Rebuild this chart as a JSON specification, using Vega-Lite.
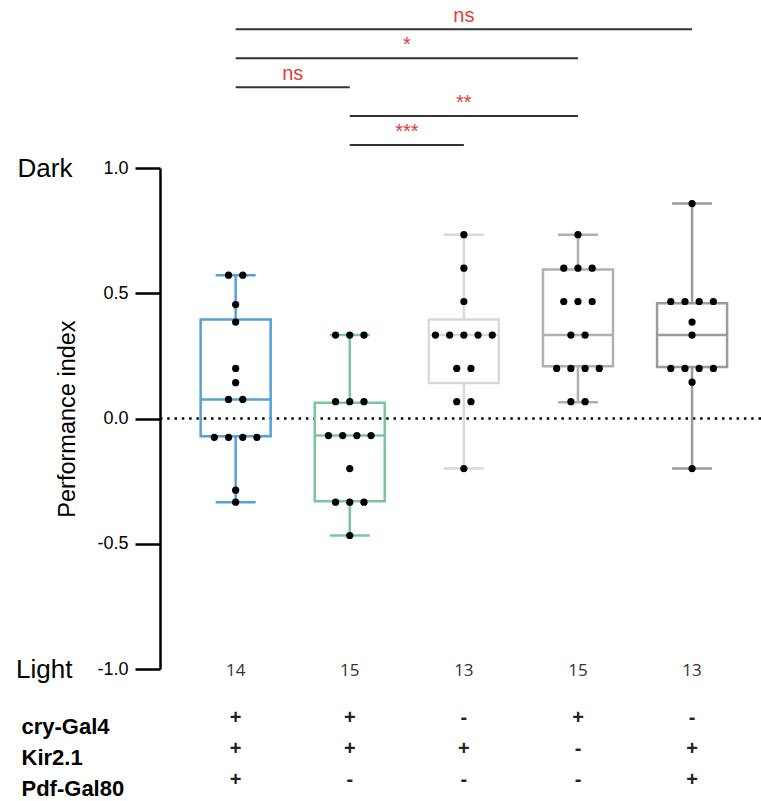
{
  "$schema": "https://vega.github.io/schema/vega-lite/v6.json",
  "autosize": {"type": "none"},
  "width": 601,
  "height": 501,
  "padding": {"left": 160, "top": 168, "right": 0, "bottom": 132},
  "background": "white",
  "config": {"view": {"stroke": null}, "axis": {"grid": false}, "scale": {"continuousPadding": 0}},
  "datasets": {
    "points": [
      {"g": 1, "v": 0.572}, {"g": 1, "v": 0.572}, {"g": 1, "v": 0.455}, {"g": 1, "v": 0.385},
      {"g": 1, "v": 0.2}, {"g": 1, "v": 0.143}, {"g": 1, "v": 0.076}, {"g": 1, "v": 0.076},
      {"g": 1, "v": -0.075}, {"g": 1, "v": -0.075}, {"g": 1, "v": -0.075}, {"g": 1, "v": -0.075},
      {"g": 1, "v": -0.286}, {"g": 1, "v": -0.334},
      {"g": 2, "v": 0.333}, {"g": 2, "v": 0.333}, {"g": 2, "v": 0.333},
      {"g": 2, "v": 0.067}, {"g": 2, "v": 0.067}, {"g": 2, "v": 0.067},
      {"g": 2, "v": -0.068}, {"g": 2, "v": -0.068}, {"g": 2, "v": -0.068}, {"g": 2, "v": -0.068},
      {"g": 2, "v": -0.2},
      {"g": 2, "v": -0.334}, {"g": 2, "v": -0.334}, {"g": 2, "v": -0.334},
      {"g": 2, "v": -0.467},
      {"g": 3, "v": 0.734}, {"g": 3, "v": 0.6}, {"g": 3, "v": 0.467},
      {"g": 3, "v": 0.333}, {"g": 3, "v": 0.333}, {"g": 3, "v": 0.333}, {"g": 3, "v": 0.333}, {"g": 3, "v": 0.333},
      {"g": 3, "v": 0.2}, {"g": 3, "v": 0.2},
      {"g": 3, "v": 0.067}, {"g": 3, "v": 0.067},
      {"g": 3, "v": -0.2},
      {"g": 4, "v": 0.734},
      {"g": 4, "v": 0.6}, {"g": 4, "v": 0.6}, {"g": 4, "v": 0.6},
      {"g": 4, "v": 0.467}, {"g": 4, "v": 0.467}, {"g": 4, "v": 0.467},
      {"g": 4, "v": 0.333}, {"g": 4, "v": 0.333},
      {"g": 4, "v": 0.2}, {"g": 4, "v": 0.2}, {"g": 4, "v": 0.2}, {"g": 4, "v": 0.2},
      {"g": 4, "v": 0.067}, {"g": 4, "v": 0.067},
      {"g": 5, "v": 0.858},
      {"g": 5, "v": 0.467}, {"g": 5, "v": 0.467}, {"g": 5, "v": 0.467}, {"g": 5, "v": 0.467},
      {"g": 5, "v": 0.385}, {"g": 5, "v": 0.333},
      {"g": 5, "v": 0.2}, {"g": 5, "v": 0.2}, {"g": 5, "v": 0.2}, {"g": 5, "v": 0.2},
      {"g": 5, "v": 0.145}, {"g": 5, "v": -0.2}
    ],
    "summary": [
      {"g": 1, "n": 14, "lo": -0.334, "q1": -0.071, "med": 0.076, "q3": 0.395, "hi": 0.572},
      {"g": 2, "n": 15, "lo": -0.467, "q1": -0.33, "med": -0.068, "q3": 0.063, "hi": 0.333},
      {"g": 3, "n": 13, "lo": -0.2, "q1": 0.142, "med": 0.333, "q3": 0.395, "hi": 0.734},
      {"g": 4, "n": 15, "lo": 0.065, "q1": 0.209, "med": 0.333, "q3": 0.595, "hi": 0.734},
      {"g": 5, "n": 13, "lo": -0.2, "q1": 0.206, "med": 0.333, "q3": 0.46, "hi": 0.858}
    ],
    "sig": [
      {"from": 1, "to": 5, "level": 5, "label": "ns"},
      {"from": 1, "to": 4, "level": 4, "label": "*"},
      {"from": 1, "to": 2, "level": 3, "label": "ns"},
      {"from": 2, "to": 4, "level": 2, "label": "**"},
      {"from": 2, "to": 3, "level": 1, "label": "***"}
    ],
    "table": [
      {"gene": "cry-Gal4", "g": 1, "sign": "+"}, {"gene": "cry-Gal4", "g": 2, "sign": "+"},
      {"gene": "cry-Gal4", "g": 3, "sign": "-"}, {"gene": "cry-Gal4", "g": 4, "sign": "+"},
      {"gene": "cry-Gal4", "g": 5, "sign": "-"},
      {"gene": "Kir2.1", "g": 1, "sign": "+"}, {"gene": "Kir2.1", "g": 2, "sign": "+"},
      {"gene": "Kir2.1", "g": 3, "sign": "+"}, {"gene": "Kir2.1", "g": 4, "sign": "-"},
      {"gene": "Kir2.1", "g": 5, "sign": "+"},
      {"gene": "Pdf-Gal80", "g": 1, "sign": "+"}, {"gene": "Pdf-Gal80", "g": 2, "sign": "-"},
      {"gene": "Pdf-Gal80", "g": 3, "sign": "-"}, {"gene": "Pdf-Gal80", "g": 4, "sign": "-"},
      {"gene": "Pdf-Gal80", "g": 5, "sign": "+"}
    ]
  },
  "layer": [
    {
      "layer": [
        {
          "data": {"values": [{}]},
          "mark": {"type": "rule", "color": "black", "strokeWidth": 2.5, "strokeDash": [2.5, 4.8]},
          "encoding": {
            "y": {"datum": 0, "type": "quantitative", "scale": {"domain": [-1, 1], "nice": false, "zero": false}, "axis": null}
          }
        },
        {
          "data": {"name": "summary"},
          "mark": {"type": "bar", "filled": false, "width": 70, "strokeWidth": 2.5},
          "encoding": {
            "x": {"field": "g", "type": "quantitative", "scale": {"domain": [0.337, 5.604], "nice": false, "zero": false, "padding": 0}, "axis": null},
            "y": {"field": "q1", "type": "quantitative", "scale": {"domain": [-1, 1], "nice": false, "zero": false},
              "axis": {"orient": "left", "values": [-1, 1], "labelExpr": "datum.value > 0 ? 'Dark' : 'Light'", "ticks": false, "tickSize": 0, "domain": false, "grid": false, "title": null, "labelFontSize": 26, "labelFont": "Liberation Sans", "labelColor": "black", "labelPadding": 88, "labelFlush": false, "labelOverlap": false}},
            "y2": {"field": "q3"},
            "color": {"field": "g", "type": "nominal", "scale": {"domain": [1, 2, 3, 4, 5], "range": ["#56a0d3", "#7cc5a0", "#d9d9d9", "#b0b0b0", "#9b9b9b"]}, "legend": null}
          }
        },
        {
          "data": {"name": "summary"},
          "mark": {"type": "rule", "strokeWidth": 2.5},
          "encoding": {
            "x": {"field": "g", "type": "quantitative", "scale": {"domain": [0.337, 5.604], "nice": false, "zero": false, "padding": 0}, "axis": null},
            "y": {"field": "q3", "type": "quantitative", "scale": {"domain": [-1, 1], "nice": false, "zero": false}, "axis": null},
            "y2": {"field": "hi"},
            "color": {"field": "g", "type": "nominal", "scale": {"domain": [1, 2, 3, 4, 5], "range": ["#56a0d3", "#7cc5a0", "#d9d9d9", "#b0b0b0", "#9b9b9b"]}, "legend": null}
          }
        },
        {
          "data": {"name": "summary"},
          "mark": {"type": "rule", "strokeWidth": 2.5},
          "encoding": {
            "x": {"field": "g", "type": "quantitative", "scale": {"domain": [0.337, 5.604], "nice": false, "zero": false, "padding": 0}, "axis": null},
            "y": {"field": "lo", "type": "quantitative", "scale": {"domain": [-1, 1], "nice": false, "zero": false}, "axis": null},
            "y2": {"field": "q1"},
            "color": {"field": "g", "type": "nominal", "scale": {"domain": [1, 2, 3, 4, 5], "range": ["#56a0d3", "#7cc5a0", "#d9d9d9", "#b0b0b0", "#9b9b9b"]}, "legend": null}
          }
        },
        {
          "data": {"name": "summary"},
          "mark": {"type": "tick", "orient": "horizontal", "size": 40, "thickness": 2.5, "opacity": 1},
          "encoding": {
            "x": {"field": "g", "type": "quantitative", "scale": {"domain": [0.337, 5.604], "nice": false, "zero": false, "padding": 0}, "axis": null},
            "y": {"field": "hi", "type": "quantitative", "scale": {"domain": [-1, 1], "nice": false, "zero": false}, "axis": null},
            "color": {"field": "g", "type": "nominal", "scale": {"domain": [1, 2, 3, 4, 5], "range": ["#56a0d3", "#7cc5a0", "#d9d9d9", "#b0b0b0", "#9b9b9b"]}, "legend": null}
          }
        },
        {
          "data": {"name": "summary"},
          "mark": {"type": "tick", "orient": "horizontal", "size": 40, "thickness": 2.5, "opacity": 1},
          "encoding": {
            "x": {"field": "g", "type": "quantitative", "scale": {"domain": [0.337, 5.604], "nice": false, "zero": false, "padding": 0}, "axis": null},
            "y": {"field": "lo", "type": "quantitative", "scale": {"domain": [-1, 1], "nice": false, "zero": false}, "axis": null},
            "color": {"field": "g", "type": "nominal", "scale": {"domain": [1, 2, 3, 4, 5], "range": ["#56a0d3", "#7cc5a0", "#d9d9d9", "#b0b0b0", "#9b9b9b"]}, "legend": null}
          }
        },
        {
          "data": {"name": "summary"},
          "mark": {"type": "tick", "orient": "horizontal", "size": 72, "thickness": 2.5, "opacity": 1},
          "encoding": {
            "x": {"field": "g", "type": "quantitative", "scale": {"domain": [0.337, 5.604], "nice": false, "zero": false, "padding": 0}, "axis": null},
            "y": {"field": "med", "type": "quantitative", "scale": {"domain": [-1, 1], "nice": false, "zero": false}, "axis": null},
            "color": {"field": "g", "type": "nominal", "scale": {"domain": [1, 2, 3, 4, 5], "range": ["#56a0d3", "#7cc5a0", "#d9d9d9", "#b0b0b0", "#9b9b9b"]}, "legend": null}
          }
        },
        {
          "data": {"name": "points"},
          "transform": [
            {"window": [{"op": "row_number", "as": "rn"}, {"op": "count", "as": "cnt"}], "groupby": ["g", "v"], "frame": [null, null]},
            {"calculate": "datum.g + 0.1245 * (datum.rn - (datum.cnt + 1) / 2)", "as": "xs"}
          ],
          "mark": {"type": "circle", "color": "black", "size": 52, "opacity": 1},
          "encoding": {
            "x": {"field": "xs", "type": "quantitative", "scale": {"domain": [0.337, 5.604], "nice": false, "zero": false, "padding": 0}, "axis": null},
            "y": {"field": "v", "type": "quantitative", "scale": {"domain": [-1, 1], "nice": false, "zero": false},
              "axis": {"orient": "left", "values": [-1, -0.5, 0, 0.5, 1], "labelExpr": "replace(format(datum.value, '.1f'), '\u2212', '-')", "title": "Performance index", "titleFontSize": 23.5, "titleFontWeight": "normal", "titleFont": "Liberation Sans", "titleColor": "black", "titlePadding": 17, "labelFont": "Liberation Sans", "labelFontSize": 18, "labelColor": "black", "labelPadding": 7, "tickSize": 25, "tickWidth": 2.5, "tickColor": "black", "domainColor": "black", "domainWidth": 2.5, "grid": false, "labelFlush": false, "labelOverlap": false}}
          }
        },
        {
          "data": {"name": "summary"},
          "mark": {"type": "text", "font": "Open Sans", "fontSize": 17, "color": "#333333", "baseline": "middle", "dy": 2},
          "encoding": {
            "x": {"field": "g", "type": "quantitative", "scale": {"domain": [0.337, 5.604], "nice": false, "zero": false, "padding": 0}, "axis": null},
            "y": {"datum": -1, "type": "quantitative", "scale": {"domain": [-1, 1], "nice": false, "zero": false}, "axis": null},
            "text": {"field": "n"}
          }
        }
      ],
      "resolve": {"axis": {"y": "independent"}}
    },
    {
      "data": {"name": "sig"},
      "transform": [{"calculate": "(datum.from + datum.to) / 2", "as": "mid"}],
      "layer": [
        {
          "mark": {"type": "rule", "color": "#333333", "strokeWidth": 2},
          "encoding": {
            "x": {"field": "from", "type": "quantitative", "scale": {"domain": [0.337, 5.604], "nice": false, "zero": false, "padding": 0}, "axis": null},
            "x2": {"field": "to"},
            "y": {"field": "level", "type": "ordinal", "scale": {"type": "point", "domain": [1, 2, 3, 4, 5], "range": [-23, -138.7], "padding": 0}, "axis": null}
          }
        },
        {
          "mark": {"type": "text", "color": "#e23b3b", "fontSize": 20, "font": "Liberation Sans", "baseline": "alphabetic", "dy": -7},
          "encoding": {
            "x": {"field": "mid", "type": "quantitative", "scale": {"domain": [0.337, 5.604], "nice": false, "zero": false, "padding": 0}, "axis": null},
            "y": {"field": "level", "type": "ordinal", "scale": {"type": "point", "domain": [1, 2, 3, 4, 5], "range": [-23, -138.7], "padding": 0}, "axis": null},
            "text": {"field": "label"}
          }
        }
      ]
    },
    {
      "data": {"name": "table"},
      "mark": {"type": "text", "fontSize": 20, "fontWeight": "bold", "font": "Liberation Sans", "color": "#222222", "baseline": "middle", "dy": 1.5},
      "encoding": {
        "x": {"field": "g", "type": "quantitative", "scale": {"domain": [0.337, 5.604], "nice": false, "zero": false, "padding": 0}, "axis": null},
        "y": {"field": "gene", "type": "nominal", "scale": {"type": "point", "domain": ["cry-Gal4", "Kir2.1", "Pdf-Gal80"], "range": [548.7, 610.3], "padding": 0},
          "axis": {"orient": "left", "ticks": false, "tickSize": 0, "domain": false, "grid": false, "title": null, "labelAlign": "left", "labelPadding": 139, "labelFontSize": 22, "labelFontWeight": "bold", "labelFont": "Liberation Sans", "labelColor": "black", "labelOffset": 10, "labelBaseline": "middle", "labelOverlap": false, "labelFlush": false}},
        "text": {"field": "sign"}
      }
    }
  ],
  "resolve": {"scale": {"y": "independent"}, "axis": {"y": "independent"}}
}
